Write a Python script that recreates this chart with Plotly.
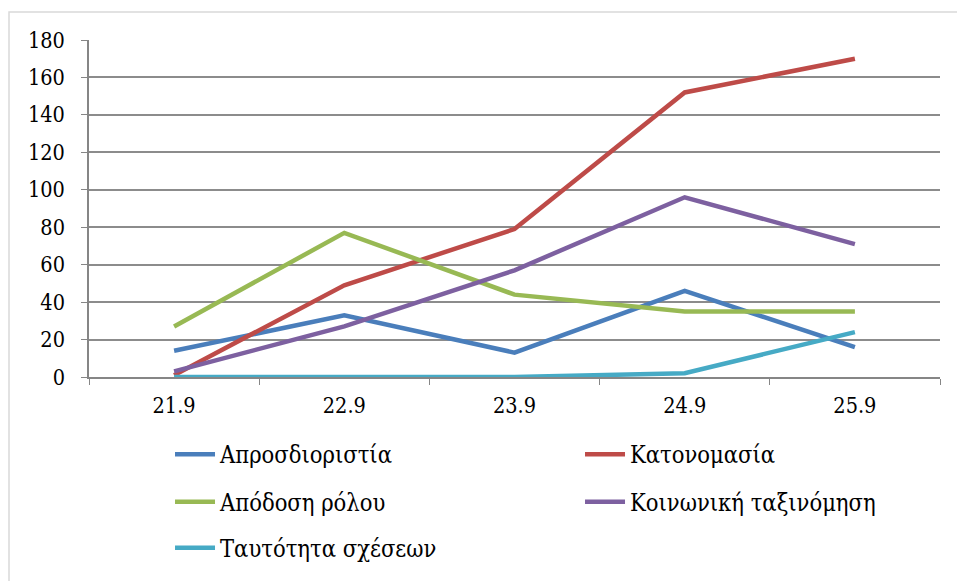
import plotly.graph_objects as go

# categories (dates) and series values
dates = ["21.9", "22.9", "23.9", "24.9", "25.9"]
aprosdioristia = [14, 33, 13, 46, 16]
katonomasia = [1, 49, 79, 152, 170]
apodosi_rolou = [27, 77, 44, 35, 35]
koinoniki = [3, 27, 57, 96, 71]
tautotita = [0, 0, 0, 2, 24]

series = [
    ("Απροσδιοριστία", aprosdioristia, "#4a7ebb", "legend"),
    ("Κατονομασία", katonomasia, "#be4b48", "legend"),
    ("Απόδοση ρόλου", apodosi_rolou, "#98b954", "legend2"),
    ("Κοινωνική ταξινόμηση", koinoniki, "#7d60a0", "legend2"),
    ("Ταυτότητα σχέσεων", tautotita, "#46aac5", "legend3"),
]

fig = go.Figure()
for name, vals, col, leg in series:
    fig.add_trace(go.Scatter(
        x=dates, y=vals, name=name, mode="lines",
        line=dict(color=col, width=4.5), legend=leg,
    ))

font = "DejaVu Serif Condensed, DejaVu Serif"


def legend_row(y):
    # one legend per row, so the rows can be spaced like the original
    return dict(
        orientation="h", x=0.0952, xanchor="left", y=y, yanchor="middle",
        entrywidth=355, entrywidthmode="pixels", itemwidth=40,
        font=dict(family=font, size=23.5, color="black"),
        bgcolor="rgba(0,0,0,0)", traceorder="normal",
    )


fig.update_layout(
    width=957, height=581,
    margin=dict(l=89, r=17, t=40, b=204, autoexpand=False),
    paper_bgcolor="white", plot_bgcolor="white",
    font=dict(family=font, size=21, color="black"),
    showlegend=True,
    legend=legend_row(-0.23),
    legend2=legend_row(-0.371),
    legend3=legend_row(-0.507),
)
fig.update_xaxes(
    type="category", showgrid=False, showline=True, linecolor="#868686", linewidth=1.5,
    ticks="outside", tickson="boundaries", ticklen=6, tickcolor="#868686",
    tickfont=dict(family=font, size=21.5), ticklabelstandoff=8, range=[-0.5, 4.5],
)
fig.update_yaxes(
    range=[0, 180], dtick=20, showgrid=True, gridcolor="#8c8c8c", gridwidth=1.5,
    showline=True, linecolor="#868686", linewidth=1.5, zeroline=False,
    ticks="outside", ticklen=6, tickcolor="#868686",
    tickfont=dict(family=font, size=21.5), ticklabelstandoff=12,
)
# light frame around the chart (only the top and left edges show in the original)
fig.add_shape(type="rect", xref="paper", yref="paper", x0=-0.094, x1=1.05, y0=-0.65, y1=1.083,
              line=dict(color="#d9d9d9", width=1.5), layer="below")

fig.write_html("out.html", config={"displayModeBar": False},
               post_script="document.body.style.margin='0';")
